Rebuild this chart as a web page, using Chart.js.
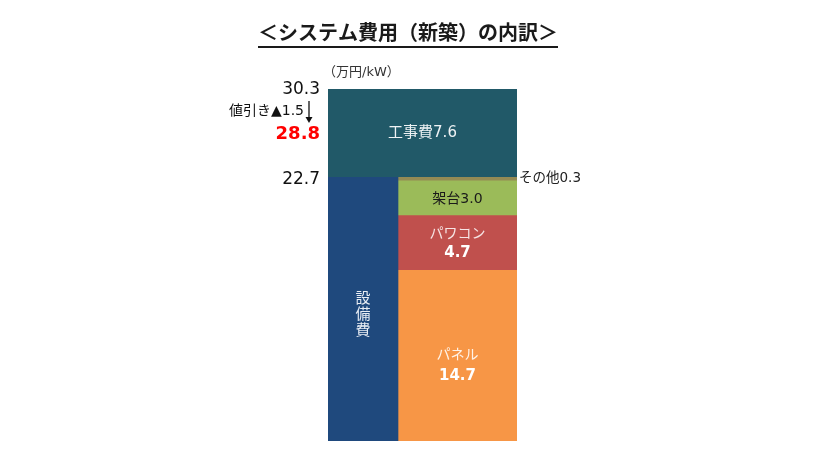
<!DOCTYPE html>
<html>
<head>
<meta charset="utf-8">
<script src="https://cdn.jsdelivr.net/npm/chart.js@4.4.1/dist/chart.umd.min.js"></script>
<style>
  html, body { margin: 0; padding: 0; background: #ffffff; }
  #wrap { width: 830px; height: 450px; }
</style>
</head>
<body>
<div id="wrap"><canvas id="c" width="830" height="450"></canvas></div>
<script>
// ---- data ----
const chartTitle = '＜システム費用（新築）の内訳＞';
const unitLabel = '（万円/kW）';
const equipmentLabel = '設備費';
const equipmentTotal = 22.7;
const constructionLabel = '工事費';
const constructionValue = 7.6;
const systemTotal = 30.3;
const discountLabel = '値引き▲';
const discountValue = 1.5;
const netTotal = 28.8;
const partLabels = ['パネル', 'パワコン', '架台', 'その他'];
const partValues = [14.7, 4.7, 3.0, 0.3];
const partColors = ['#F79646', '#C0504D', '#9BBB59', '#948A54'];

// ---- layout (pixel units along x) ----
const FONT = '"DejaVu Sans", "Noto Sans CJK JP", sans-serif';
const leftW = 70, rightW = 119, totalW = leftW + rightW;

// cumulative ranges for right column
const partRanges = [];
let acc = 0;
partValues.forEach(v => { partRanges.push([acc, +(acc + v).toFixed(2)]); acc += v; });

const datasets = [];
datasets.push({
  label: equipmentLabel,
  data: [{ x: leftW / 2, y: [0, equipmentTotal] }],
  backgroundColor: '#1F497D',
  barThickness: leftW, grouped: false
});
partLabels.forEach((l, i) => {
  datasets.push({
    label: l,
    data: [{ x: leftW + rightW / 2, y: partRanges[i] }],
    backgroundColor: partColors[i],
    barThickness: rightW, grouped: false
  });
});
datasets.push({
  label: constructionLabel,
  data: [{ x: totalW / 2, y: [equipmentTotal, +(equipmentTotal + constructionValue).toFixed(2)] }],
  backgroundColor: '#215968',
  barThickness: totalW, grouped: false
});

const textPlugin = {
  id: 'texts',
  afterDatasetsDraw(chart) {
    const ctx = chart.ctx;
    const xs = chart.scales.x, ys = chart.scales.y;
    const X = v => xs.getPixelForValue(v);
    const Y = v => ys.getPixelForValue(v);
    const left = X(0);
    ctx.save();
    ctx.textBaseline = 'middle';

    // title
    ctx.fillStyle = '#1a1a1a';
    ctx.font = 'bold 20px ' + FONT;
    ctx.textAlign = 'center';
    ctx.fillText(chartTitle, 408, 35);
    const tw = ctx.measureText(chartTitle).width;
    ctx.fillRect(408 - tw / 2, 46, tw, 2);

    // unit
    ctx.font = '13px ' + FONT;
    ctx.textAlign = 'left';
    ctx.fillStyle = '#333';
    ctx.fillText(unitLabel, left - 5, Y(systemTotal) - 16);

    // left side value labels
    ctx.textAlign = 'right';
    ctx.fillStyle = '#111';
    ctx.font = '17px ' + FONT;
    ctx.fillText(systemTotal.toFixed(1), left - 8, Y(systemTotal) + 1);
    ctx.fillText(equipmentTotal.toFixed(1), left - 8, Y(equipmentTotal) + 2);
    ctx.font = '14px ' + FONT;
    ctx.fillText(discountLabel + discountValue.toFixed(1), left - 24, Y(systemTotal) + 22);
    ctx.fillStyle = '#FF0000';
    ctx.font = 'bold 18px ' + FONT;
    ctx.fillText(netTotal.toFixed(1), left - 8, Y(systemTotal) + 45);

    // arrow
    const ax = left - 19, ay1 = Y(systemTotal) + 12, ay2 = Y(systemTotal) + 34;
    ctx.strokeStyle = '#111';
    ctx.lineWidth = 1.3;
    ctx.beginPath(); ctx.moveTo(ax, ay1); ctx.lineTo(ax, ay2 - 4); ctx.stroke();
    ctx.fillStyle = '#111';
    ctx.beginPath(); ctx.moveTo(ax - 3.5, ay2 - 6); ctx.lineTo(ax + 3.5, ay2 - 6); ctx.lineTo(ax, ay2); ctx.closePath(); ctx.fill();

    // 工事費
    ctx.textAlign = 'center';
    ctx.fillStyle = '#EEF2F4';
    ctx.font = '15px ' + FONT;
    ctx.fillText(constructionLabel + constructionValue.toFixed(1), X(totalW / 2), Y(equipmentTotal + constructionValue / 2));

    // 設備費 vertical
    ctx.font = '15px ' + FONT;
    ctx.fillStyle = '#E8EDF4';
    const sx = X(leftW / 2), sy = Y(equipmentTotal / 2) + 6;
    Array.from(equipmentLabel).forEach((ch, i) => ctx.fillText(ch, sx, sy + (i - 1) * 16));

    // right column labels
    const rx = X(leftW + rightW / 2);
    // panel
    let mid = Y((partRanges[0][0] + partRanges[0][1]) / 2) + 10;
    ctx.fillStyle = '#FFF3E8';
    ctx.font = '14px ' + FONT;
    ctx.fillText(partLabels[0], rx, mid - 10);
    ctx.fillStyle = '#FFFFFF';
    ctx.font = 'bold 15px ' + FONT;
    ctx.fillText(partValues[0].toFixed(1), rx, mid + 10);
    // pcs
    mid = Y((partRanges[1][0] + partRanges[1][1]) / 2);
    ctx.fillStyle = '#F6E4E4';
    ctx.font = '14px ' + FONT;
    ctx.fillText(partLabels[1], rx, mid - 9);
    ctx.fillStyle = '#FFFFFF';
    ctx.font = 'bold 15px ' + FONT;
    ctx.fillText(partValues[1].toFixed(1), rx, mid + 10);
    // mount
    mid = Y((partRanges[2][0] + partRanges[2][1]) / 2);
    ctx.fillStyle = '#1a1a1a';
    ctx.font = '14px ' + FONT;
    ctx.fillText(partLabels[2] + partValues[2].toFixed(1), rx, mid + 1);
    // other
    ctx.textAlign = 'left';
    ctx.fillStyle = '#222';
    ctx.font = '13.5px ' + FONT;
    ctx.fillText(partLabels[3] + partValues[3].toFixed(1), X(totalW) + 2, Y(partRanges[3][1]) + 1);

    ctx.restore();
  }
};

new Chart(document.getElementById('c'), {
  type: 'bar',
  data: { datasets },
  options: {
    responsive: false,
    animation: false,
    layout: { padding: { left: 328, right: 313, top: 89, bottom: 9 } },
    plugins: { legend: { display: false }, tooltip: { enabled: false }, title: { display: false } },
    scales: {
      x: { type: 'linear', min: 0, max: totalW, display: false, offset: false },
      y: { type: 'linear', min: 0, max: systemTotal, display: false }
    },
    elements: { bar: { borderWidth: 0 } }
  },
  plugins: [textPlugin]
});
</script>
</body>
</html>
